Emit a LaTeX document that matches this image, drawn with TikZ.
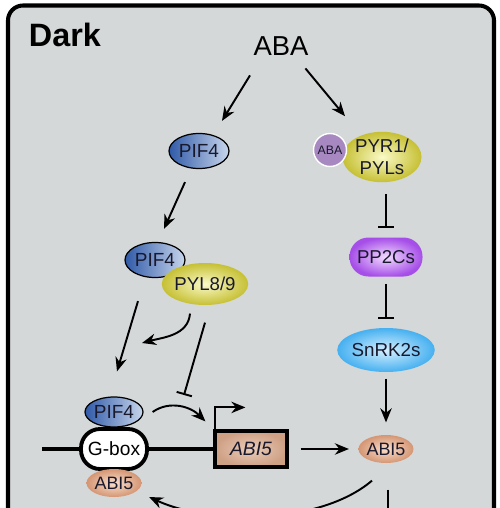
\documentclass[tikz,border=0pt]{standalone}
\usepackage{fontspec}
\setmainfont{Liberation Sans}
\usepackage{tikz}
\usetikzlibrary{arrows.meta,shapes.geometric}
\definecolor{panel}{RGB}{212,216,216}
\definecolor{pifdark}{RGB}{48,90,168}
\definecolor{piflight}{RGB}{200,214,236}
\definecolor{pyldark}{RGB}{198,192,52}
\definecolor{pyllight}{RGB}{250,250,200}
\definecolor{abapurple}{RGB}{168,136,192}
\definecolor{ppdark}{RGB}{166,78,232}
\definecolor{pplight}{RGB}{242,220,255}
\definecolor{snrkdark}{RGB}{70,176,240}
\definecolor{snrklight}{RGB}{214,240,255}
\definecolor{abidark}{RGB}{212,150,116}
\definecolor{abilight}{RGB}{250,222,202}
\definecolor{boxdark}{RGB}{206,160,132}
\definecolor{boxlight}{RGB}{234,204,184}
\definecolor{ink}{RGB}{25,25,45}

\begin{document}
\begin{tikzpicture}[>={Stealth[length=8pt,width=6.5pt]},line width=1.1pt,
  prot/.style={ellipse,inner sep=0pt,text=ink,line width=0.7pt},
  pif/.style={prot,draw=black,left color=pifdark,right color=piflight,minimum width=1.2cm,minimum height=0.7cm,font=\fontsize{10.8}{12}\selectfont},
  pyl/.style={prot,inner color=pyllight,outer color=pyldark,font=\fontsize{10.6}{12.5}\selectfont},
  abi/.style={prot,inner color=abilight,outer color=abidark,minimum width=1.02cm,minimum height=0.56cm,font=\fontsize{10.2}{12}\selectfont},
  inhib/.style={-{Bar[width=9pt]}}]
\clip (0cm,0cm) rectangle (10cm,-10.16cm);
\fill[white] (0cm,0cm) rectangle (10cm,-10.16cm);
\draw[line width=2.3pt,rounded corners=0.3cm,fill=panel] (0.16cm,-0.11cm) rectangle (9.88cm,-10.9cm);
\node[anchor=west,inner sep=0pt,font=\bfseries\fontsize{18.4}{20}\selectfont] (dark) at (0.56cm,-0.70cm) {Dark};
\node[inner sep=0pt,font=\fontsize{15.6}{18}\selectfont] (aba) at (5.62cm,-0.92cm) {ABA};
\node[pif] (pifa) at (3.98cm,-3.02cm) {PIF4};
\node[pyl,minimum width=1.58cm,minimum height=0.98cm,align=center] (pyr) at (7.64cm,-3.14cm) {PYR1/\\PYLs};
\node[circle,draw=white,line width=0.8pt,fill=abapurple,minimum size=0.66cm,inner sep=0pt,text=ink,font=\fontsize{7}{8}\selectfont] (abab) at (6.60cm,-3.00cm) {ABA};
\node[rectangle,rounded corners=0.38cm,inner color=pplight,outer color=ppdark,minimum width=1.46cm,minimum height=0.78cm,inner sep=0pt,text=ink,font=\fontsize{10.6}{12}\selectfont] (pp2c) at (7.72cm,-5.14cm) {PP2Cs};
\node[prot,inner color=snrklight,outer color=snrkdark,minimum width=1.48cm,minimum height=0.88cm,font=\fontsize{10.7}{12}\selectfont] (snrk) at (7.72cm,-7.00cm) {SnRK2s};
\node[abi] (abir) at (7.72cm,-8.98cm) {ABI5};
\node[pif] (pifb) at (3.10cm,-5.20cm) {PIF4};
\node[pyl,minimum width=1.4cm,minimum height=0.84cm] (pyl) at (4.10cm,-5.68cm) {PYL8/9};
\node[pif,minimum width=1.16cm,minimum height=0.6cm] (pifc) at (2.28cm,-8.24cm) {PIF4};
\coordinate (dnal) at (0.84cm,-8.98cm);
\node[rectangle,rounded corners=0.38cm,draw,line width=2.2pt,fill=white,minimum width=1.32cm,minimum height=0.8cm,inner sep=0pt,font=\fontsize{10.9}{12}\selectfont] (gbox) at (2.28cm,-8.98cm) {G-box};
\node[rectangle,draw,line width=1.8pt,inner color=boxlight,outer color=boxdark,minimum width=1.44cm,minimum height=0.72cm,inner sep=0pt,text=ink,font=\itshape\fontsize{11}{12}\selectfont] (abibox) at (5.02cm,-8.98cm) {ABI5};
\node[abi] (abil) at (2.28cm,-9.66cm) {ABI5};
\draw[line width=2.3pt] (dnal) -- (gbox.west) (gbox.east) -- (abibox.west);
\draw[->] ([shift={(-0.62cm,-0.38cm)}]aba.south) -- ([shift={(0.46cm,0.24cm)}]pifa.north);
\draw[->] ([shift={(-0.08cm,-0.24cm)}]aba.south east) -- ([shift={(-0.74cm,0.30cm)}]pyr.north);
\draw[->] ([shift={(-0.28cm,-0.26cm)}]pifa.south) -- ([shift={(0.18cm,0.26cm)}]pifb.north);
\draw[inhib,shorten <=0.22cm,shorten >=0.17cm] (pp2c.north |- pyr.south) -- (pp2c.north);
\draw[inhib,shorten <=0.13cm,shorten >=0.16cm] (pp2c) -- (snrk);
\draw[->,shorten <=0.12cm,shorten >=0.24cm] (snrk) -- (abir);
\draw[->,shorten <=0.24cm,shorten >=0.18cm] (abibox) -- (abir);
\draw[->] ([shift={(-0.34cm,-0.46cm)}]pifb.south) -- ([shift={(0.06cm,0.50cm)}]pifc.north);
\coordinate (rel) at (2.84cm,-6.86cm);
\draw[->] ([shift={(-0.30cm,-0.16cm)}]pyl.south) to [out=-95,in=15] (rel);
\coordinate (act) at (3.68cm,-7.90cm);
\draw[inhib] ([yshift=-0.34cm]pyl.south) -- (act);
\draw[->] ([xshift=0.18cm]pifc.east) to [out=35,in=135] ([shift={(-0.16cm,0.16cm)}]abibox.north west);
\draw[->] ([xshift=0.04cm]abibox.north west) -- ++(0cm,0.44cm) -- ++(0.6cm,0cm);
\draw[->] ([shift={(-0.28cm,-0.34cm)}]abir.south) .. controls (6.4cm,-10.5cm) and (4.2cm,-10.5cm) .. ([shift={(0.14cm,-0.28cm)}]abil.east);
\draw ([shift={(0.04cm,-0.52cm)}]abir.south) -- ++(0cm,-1cm);
\end{tikzpicture}
\end{document}
